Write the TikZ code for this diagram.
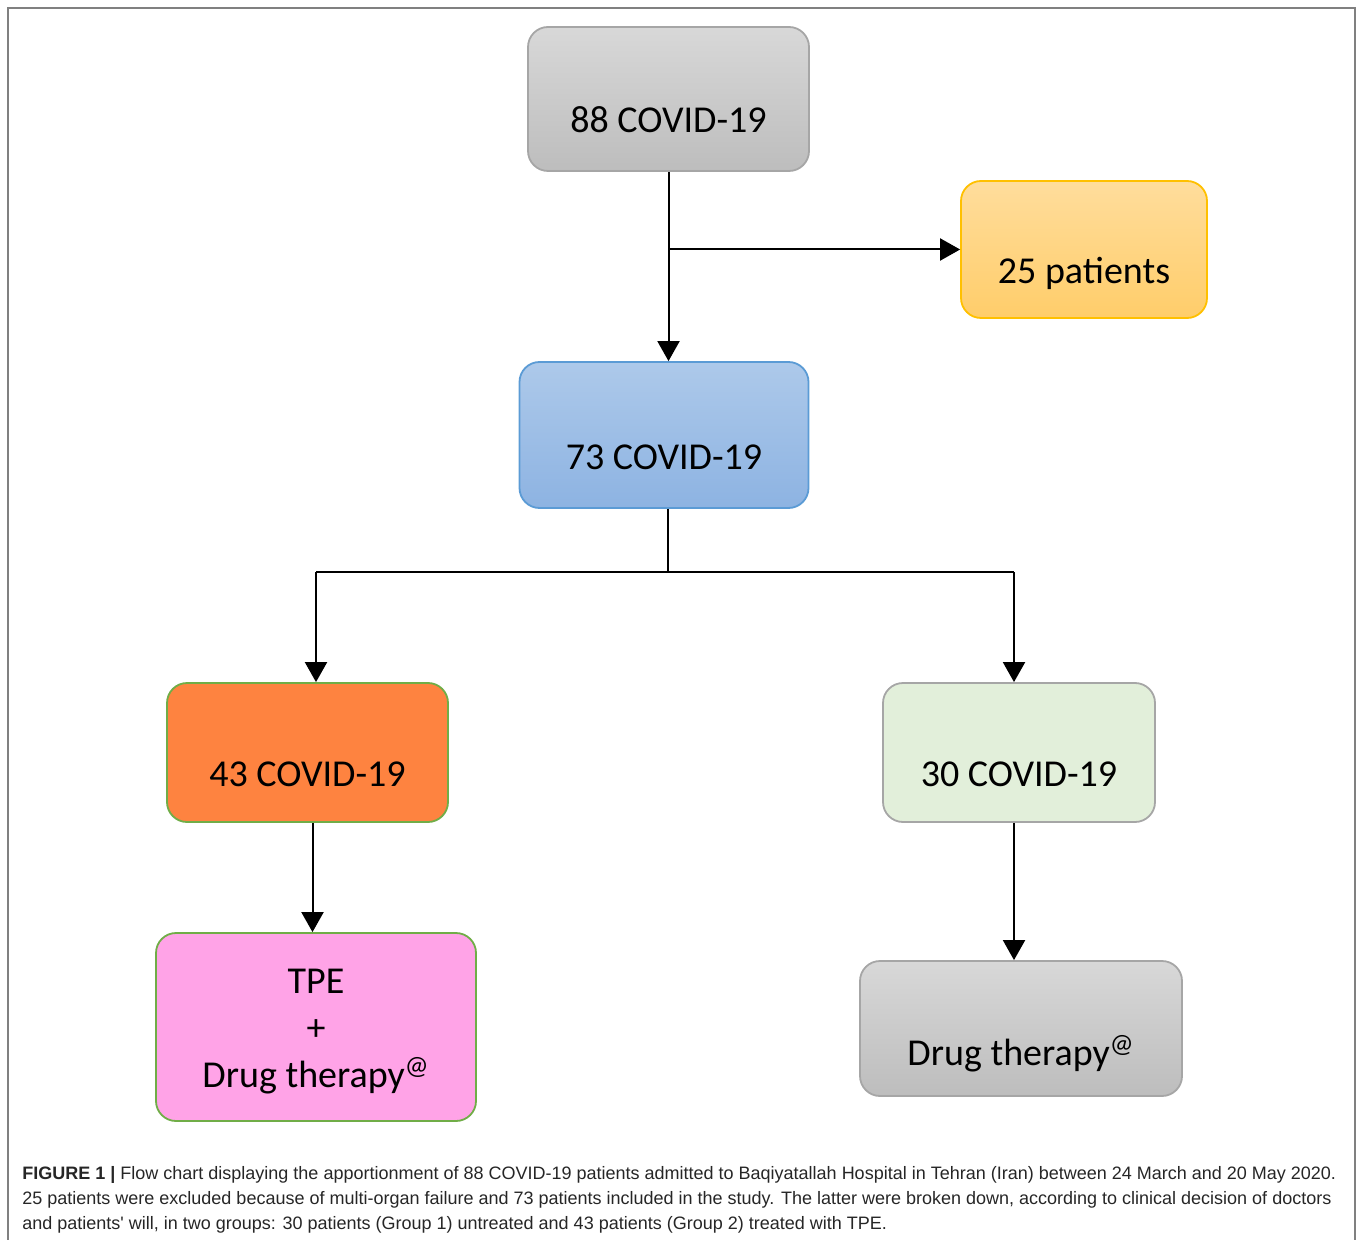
\documentclass[tikz,border=0pt]{standalone}
\usepackage{fontspec}
\setmainfont{Carlito}
\newfontfamily\capfont{Liberation Sans}
\usetikzlibrary{arrows.meta}

\definecolor{grayTop}{HTML}{D8D8D8}
\definecolor{grayBot}{HTML}{BDBDBD}
\definecolor{grayEdge}{HTML}{A6A6A6}
\definecolor{yelTop}{HTML}{FFDD9C}
\definecolor{yelBot}{HTML}{FFCD6A}
\definecolor{yelEdge}{HTML}{FFC000}
\definecolor{bluTop}{HTML}{ADC9EA}
\definecolor{bluBot}{HTML}{8DB3E2}
\definecolor{bluEdge}{HTML}{5B9BD5}
\definecolor{orgFill}{HTML}{FE8340}
\definecolor{grnEdge}{HTML}{70AD47}
\definecolor{grnFill}{HTML}{E2EFDA}
\definecolor{pnkFill}{HTML}{FFA3E7}

\begin{document}
\begin{tikzpicture}[x=0.5pt, y=-0.5pt,
    box/.style={rectangle, rounded corners=10pt, line width=0.9pt, align=center,
        font=\fontsize{19}{23.5}\selectfont, text height=34pt, text depth=0pt},
    graybox/.style={box, draw=grayEdge, top color=grayTop, bottom color=grayBot},
    arrow/.style={-{Triangle[length=10pt,width=11pt]}, line width=1pt}
]
    \useasboundingbox (0,0) rectangle (1358,1240);
    \draw[draw=gray, line width=1pt] (8,1260) |- (1355,8) -- (1355,1260);

    \node[graybox, minimum width=140.5pt, minimum height=72pt] (n88) at (668.5,99) {88 COVID-19};
    \node[box, draw=yelEdge, top color=yelTop, bottom color=yelBot,
        minimum width=123pt, minimum height=68.5pt] (n25) at (1084,249.5) {25 patients};
    \node[box, draw=bluEdge, top color=bluTop, bottom color=bluBot,
        minimum width=144.5pt, minimum height=73pt] (n73) at (664,435) {73 COVID-19};
    \node[box, draw=grnEdge, fill=orgFill, minimum width=140.5pt, minimum height=69.5pt] (n43) at (307.5,752.5) {43 COVID-19};
    \node[box, draw=grayEdge, fill=grnFill, minimum width=136pt, minimum height=69.5pt] (n30) at (1019,752.5) {30 COVID-19};
    \node[box, draw=grnEdge, fill=pnkFill, text height=60pt,
        minimum width=160pt, minimum height=94pt] (ntpe) at (316,1027)
        {TPE\\+\\Drug therapy\textsuperscript{@}};
    \node[graybox, text height=37pt, minimum width=161pt, minimum height=67.5pt] (ndrug) at (1021,1028.5)
        {Drug therapy\textsuperscript{@}};

    \coordinate (fork) at (668,572);
    \coordinate (lfork) at (316,572);
    \coordinate (rfork) at (1014,572);

    \draw[arrow] (n88.south) -- (n88.south |- n73.north);
    \draw[arrow] (n88.south |- n25.west) -- (n25.west);
    \draw[line width=1pt] (n73.south -| fork) -- (fork);
    \draw[line width=1pt] (lfork) -- (rfork);
    \draw[arrow] (lfork) -- (lfork |- n43.north);
    \draw[arrow] (rfork) -- (rfork |- n30.north);
    \draw[arrow] ([xshift=2.5pt]n43.south) -- ([xshift=2.5pt]n43.south |- ntpe.north);
    \draw[arrow] (rfork |- n30.south) -- (rfork |- ndrug.north);

    \node[anchor=north west, align=left, inner sep=0pt, font=\capfont\fontsize{9}{12.5}\selectfont, text=black!85]
        (caption) at (22,1166)
        {\textbf{FIGURE 1 |} Flow chart displaying the apportionment of 88 COVID-19 patients admitted to Baqiyatallah Hospital in Tehran (Iran) between 24 March and 20 May 2020.\\
        25 patients were excluded because of multi-organ failure and 73 patients included in the study. The latter were broken down, according to clinical decision of doctors\\
        and patients' will, in two groups: 30 patients (Group 1) untreated and 43 patients (Group 2) treated with TPE.};
\end{tikzpicture}
\end{document}
